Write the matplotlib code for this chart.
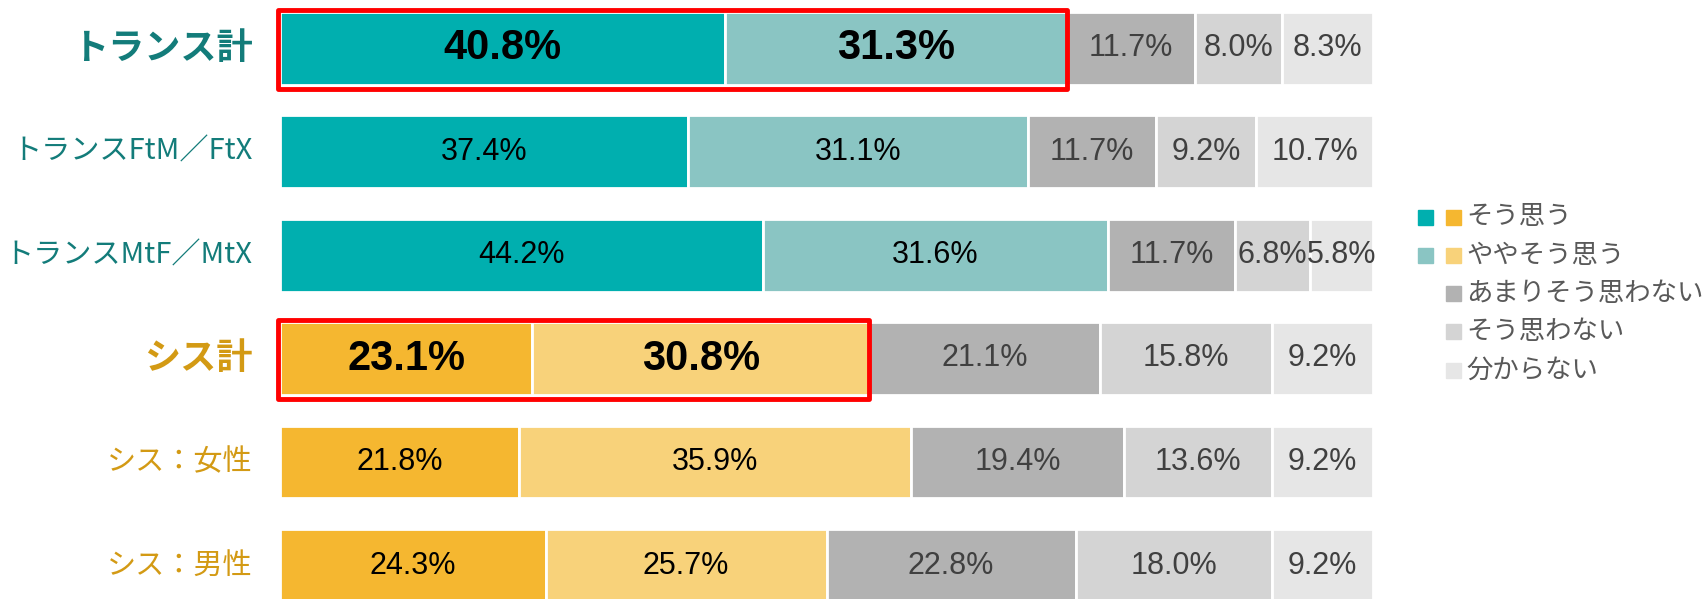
import matplotlib.pyplot as plt
from matplotlib.patches import Rectangle

plt.rcParams['font.family'] = ['Noto Sans CJK JP', 'DejaVu Sans']

# 1. DATA
grupos = ["トランス計", "トランスFtM／FtX", "トランスMtF／MtX", "シス計", "シス：女性", "シス：男性"]
respostas = ["そう思う", "ややそう思う", "あまりそう思わない", "そう思わない", "分からない"]
sou_omou = [40.8, 37.4, 44.2, 23.1, 21.8, 24.3]
yaya_sou_omou = [31.3, 31.1, 31.6, 30.8, 35.9, 25.7]
amari = [11.7, 11.7, 11.7, 21.1, 19.4, 22.8]
sou_omowanai = [8.0, 9.2, 6.8, 15.8, 13.6, 18.0]
wakaranai = [8.3, 10.7, 5.8, 9.2, 9.2, 9.2]
totais = [0, 3]          # linhas em destaque (negrito + caixa vermelha)
trans = [0, 1, 2]        # linhas trans (verde); o resto e cis (laranja)

series = [sou_omou, yaya_sou_omou, amari, sou_omowanai, wakaranai]

# 2. COLORS
cores_trans = ["#00AFAF", "#8AC5C3"]
cores_cis = ["#F5B730", "#F8D27A"]
cinzas = ["#B2B2B2", "#D4D4D4", "#E6E6E6"]
texto_trans = "#137C7A"
texto_cis = "#D39A14"

# 3. FIGURE
W, H = 1707, 599
fig = plt.figure(figsize=(W / 100, H / 100), dpi=100)
ax = fig.add_axes([280 / W, 0, 1093 / W, 1])

passo = 103.5
ax.set_ylim((H - 48) / passo, -48 / passo)
ax.set_xlim(0, 100)
ax.axis("off")

altura = 73 / passo
for i, nome in enumerate(grupos):
    valores = [s[i] for s in series]
    total = sum(valores)
    cores = (cores_trans if i in trans else cores_cis) + cinzas
    esquerda = 0
    for j, v in enumerate(valores):
        w = v / total * 100
        ax.barh(i, w, left=esquerda, height=altura, color=cores[j],
                edgecolor="white", linewidth=2)
        if j < 2:
            cor_txt = "black"
        else:
            cor_txt = "#404040"
        if i in totais and j < 2:
            ax.text(esquerda + w / 2, i, f"{v:.1f}%", ha="center", va="center",
                    fontsize=30, fontweight="bold", color=cor_txt,
                    family="Liberation Sans")
        else:
            ax.text(esquerda + w / 2, i, f"{v:.1f}%", ha="center", va="center",
                    fontsize=22, color=cor_txt, family="Liberation Sans")
        esquerda += w

    # category label
    cor_lab = texto_trans if i in trans else texto_cis
    if i in totais:
        ax.text(-2.5, i, nome, ha="right", va="center", fontsize=26,
                fontweight="bold", color=cor_lab)
    else:
        ax.text(-2.5, i, nome, ha="right", va="center", fontsize=21,
                color=cor_lab)

    # red box around the first two segments of the totals
    if i in totais:
        fim = (valores[0] + valores[1]) / total * 100
        caixa_h = 79 / passo
        ax.add_patch(Rectangle((-0.2, i - caixa_h / 2 + 1 / passo), fim + 0.2, caixa_h,
                               fill=False, edgecolor="#FF0000", linewidth=3.5,
                               joinstyle="round", clip_on=False, zorder=5))

# 4. LEGEND (manual)
sq = 15
for k, rotulo in enumerate(respostas):
    yc = 217 + 38.3 * k
    if k < 2:
        fig.add_artist(Rectangle((1418 / W, 1 - (yc + sq / 2) / H), sq / W, sq / H,
                                 color=cores_trans[k], transform=fig.transFigure))
        fig.add_artist(Rectangle((1446 / W, 1 - (yc + sq / 2) / H), sq / W, sq / H,
                                 color=cores_cis[k], transform=fig.transFigure))
    else:
        fig.add_artist(Rectangle((1446 / W, 1 - (yc + sq / 2) / H), sq / W, sq / H,
                                 color=cinzas[k - 2], transform=fig.transFigure))
    fig.text(1466 / W, 1 - yc / H, rotulo, ha="left", va="center",
             fontsize=19, color="#595959")

fig.savefig("out.png", dpi=100)
